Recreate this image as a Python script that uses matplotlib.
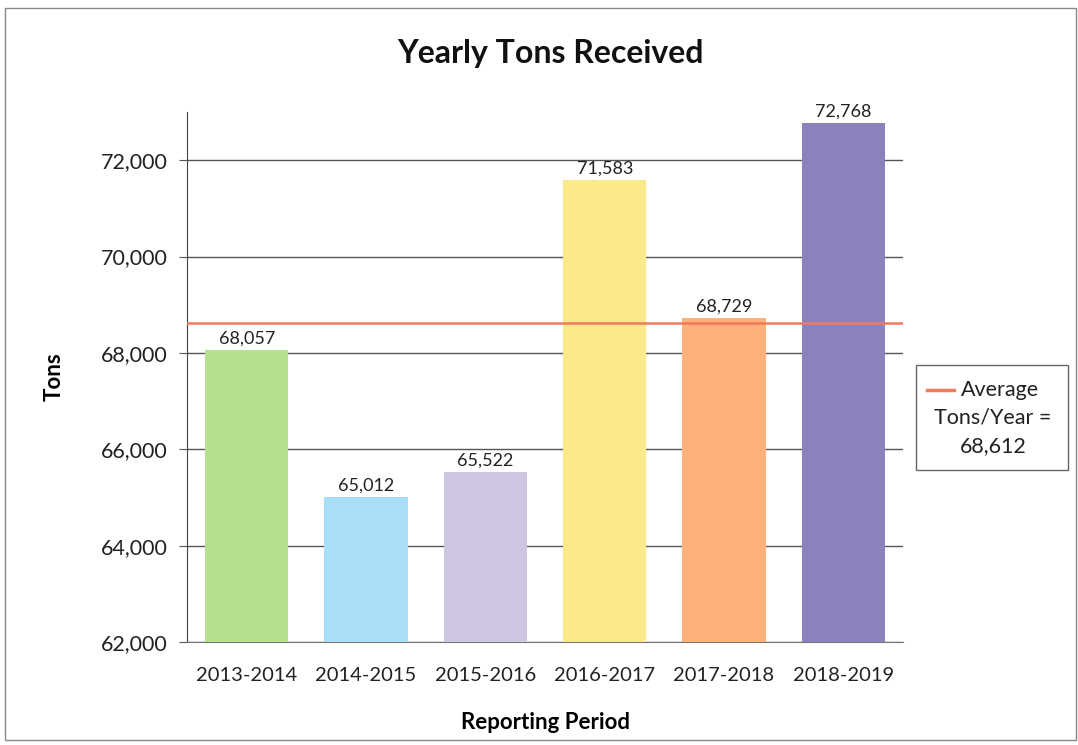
#!/usr/bin/env python3
import matplotlib

matplotlib.use("Agg")
import matplotlib.pyplot as plt
from matplotlib.lines import Line2D
from matplotlib.patches import Rectangle
from matplotlib.ticker import FuncFormatter

periods = ["2013-2014", "2014-2015", "2015-2016", "2016-2017", "2017-2018", "2018-2019"]
tons = [68057, 65012, 65522, 71583, 68729, 72768]
average = 68612
bar_colors = ["#b6e08c", "#a9def6", "#cfc6e2", "#fce98c", "#fbb179", "#8c80bd"]

plt.rcParams["font.family"] = ["Lato", "DejaVu Sans"]

fig = plt.figure(figsize=(10.78, 7.45), dpi=100)
ax = fig.add_axes([0.1735, 0.1383, 0.6642, 0.7114])

x = range(len(periods))
ax.bar(x, tons, width=0.7, color=bar_colors, zorder=3)
ax.axhline(average, color="#f07a5c", linewidth=1.8, zorder=4)

for xi, v in zip(x, tons):
    ax.text(xi, v + 70, f"{v:,}", ha="center", va="bottom", fontsize=13, color="#222222", zorder=5)

ax.set_xlim(-0.5, len(periods) - 0.5)
ax.set_ylim(62000, 73000)
ax.set_yticks(range(62000, 73000, 2000))
ax.yaxis.set_major_formatter(FuncFormatter(lambda v, _: f"{int(v):,}"))
ax.set_xticks(list(x))
ax.set_xticklabels(periods)
ax.tick_params(axis="y", labelsize=15.5, length=6, color="#555555", pad=8, colors="#222222")
ax.tick_params(axis="x", labelsize=14.5, length=0, pad=18, colors="#222222")
ax.grid(axis="y", color="#555555", linewidth=1.0, zorder=0)

for side in ["top", "right"]:
    ax.spines[side].set_visible(False)
ax.spines["left"].set_color("#444444")
ax.spines["bottom"].set_color("#777777")

ax.set_ylabel("Tons", fontsize=16, fontweight="bold", labelpad=26)
ax.set_xlabel("Reporting Period", fontsize=16, fontweight="bold", labelpad=20)
fig.text(0.511, 0.928, "Yearly Tons Received", ha="center", va="center", fontsize=23, fontweight="bold", color="#111111")

# legend box drawn by hand so the text is centred like the original
fig.patches.append(Rectangle((0.850, 0.369), 0.141, 0.141, transform=fig.transFigure,
                             fill=False, edgecolor="#666666", linewidth=1.0))
fig.lines.append(Line2D([0.860, 0.885], [0.477, 0.477], transform=fig.transFigure,
                        color="#f07a5c", linewidth=2.5))
fig.text(0.928, 0.477, "Average", ha="center", va="center", fontsize=15.5, color="#222222")
fig.text(0.921, 0.440, "Tons/Year =", ha="center", va="center", fontsize=15.5, color="#222222")
fig.text(0.921, 0.401, "68,612", ha="center", va="center", fontsize=15.5, color="#222222")

# outer chart border
fig.patches.append(Rectangle((0.005, 0.007), 0.993, 0.982, transform=fig.transFigure,
                             fill=False, edgecolor="#888888", linewidth=1.0))

fig.savefig("out.png", dpi=100)
